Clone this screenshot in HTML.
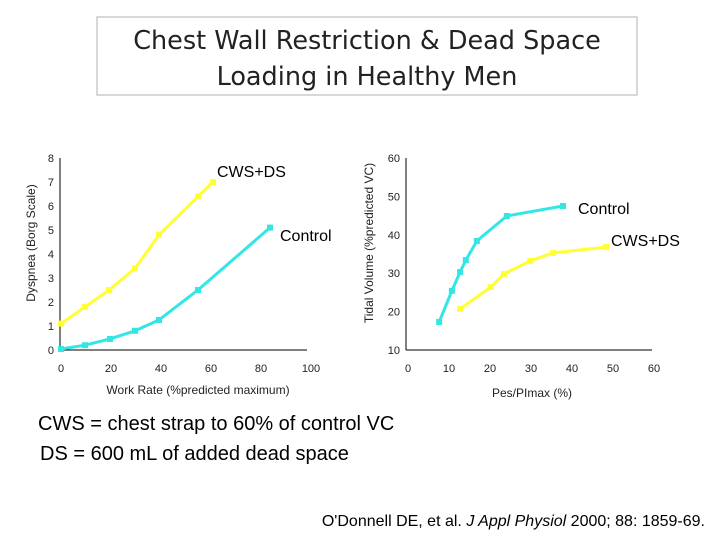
<!DOCTYPE html>
<html><head><meta charset="utf-8"><style>
body{margin:0;background:#fff}
svg text{font-family:"Liberation Sans",sans-serif}
</style></head><body>
<svg width="720" height="540" viewBox="0 0 720 540" xmlns="http://www.w3.org/2000/svg">
<rect x="97" y="17" width="540" height="78" fill="#fff" stroke="#b0b0b0"/>
<text x="367" y="49" text-anchor="middle" font-size="25.5" fill="#222" style="font-family:'DejaVu Sans',sans-serif">Chest Wall Restriction &amp; Dead Space</text>
<text x="367" y="85" text-anchor="middle" font-size="25.5" fill="#222" style="font-family:'DejaVu Sans',sans-serif">Loading in Healthy Men</text>
<g id="left"></g>
<g id="right"></g>
<text x="38" y="430" font-size="20" fill="#000">CWS = chest strap to 60% of control VC</text>
<text x="40" y="460" font-size="20" fill="#000">DS = 600 mL of added dead space</text>
<text x="705" y="526" text-anchor="end" font-size="16" fill="#000">O'Donnell DE, et al.  <tspan font-style="italic">J Appl Physiol</tspan> 2000; 88: 1859-69.</text>
</svg>
<script>
const leftXTicks=[0,20,40,60,80,100];
const leftYTicks=[0,1,2,3,4,5,6,7,8];
const leftCwsX=[0,9.6,19.2,29.6,39.2,54.8,60.8];
const leftCwsY=[1.1,1.8,2.5,3.4,4.8,6.4,7.0];
const leftCtrlX=[0,9.6,19.6,29.6,39.2,54.8,83.6];
const leftCtrlY=[0.04,0.2,0.46,0.8,1.25,2.5,5.1];
const rightXTicks=[0,10,20,30,40,50,60];
const rightYTicks=[10,20,30,40,50,60];
const rightCtrlX=[7.6,10.7,12.7,14.1,16.8,24.1,37.8];
const rightCtrlY=[17.3,25.4,30.3,33.4,38.4,44.9,47.5];
const rightCwsX=[12.7,20.2,23.4,29.8,35.4,48.3];
const rightCwsY=[20.7,26.4,29.8,33.2,35.3,36.8];
const NS="http://www.w3.org/2000/svg";
function mk(p,t,a){const e=document.createElementNS(NS,t);for(const k in a)e.setAttribute(k,a[k]);p.appendChild(e);return e;}
function chart(g,prefix,xs,ys,xTicks,yTicks,xMin,xMax,yMin,yMax,axX,axY0,axY1,axXEnd,pxX0,pxX1){
  const sx=v=>pxX0+(v-xMin)/(xMax-xMin)*(pxX1-pxX0);
  const sy=v=>axY0-(v-yMin)/(yMax-yMin)*(axY0-axY1);
  const ya=mk(g,'line',{x1:axX,y1:axY1,x2:axX,y2:axY0,stroke:'#000'});
  
  const xa=mk(g,'line',{x1:axX,y1:axY0,x2:axXEnd,y2:axY0,stroke:'#000'});
  
  yTicks.forEach(v=>{const t=mk(g,'text',{x:axX-6,y:sy(v)+4,'text-anchor':'end','font-size':11,fill:'#222'});t.textContent=v;
    });
  xTicks.forEach(v=>{const t=mk(g,'text',{x:sx(v),y:axY0+22,'text-anchor':'middle','font-size':11,fill:'#222'});t.textContent=v;
    });
  return {sx,sy};
}
function series(g,s,X,Y,color,name){
  const pl=mk(g,'polyline',{points:X.map((x,i)=>s.sx(x)+','+s.sy(Y[i])).join(' '),fill:'none',stroke:color,'stroke-width':3});
  
  X.forEach((x,i)=>{const r=mk(g,'rect',{x:s.sx(x)-3,y:s.sy(Y[i])-3,width:6,height:6,fill:color});
    });
}
const L=document.getElementById('left');
const ls=chart(L,'left',0,0,leftXTicks,leftYTicks,0,100,0,8,60,350,158,307,61,311);
series(L,ls,leftCwsX,leftCwsY,'#ffff33','left-cws-ds');
series(L,ls,leftCtrlX,leftCtrlY,'#33e6e6','left-control');
let t;
t=mk(L,'text',{x:217,y:177,'font-size':16,fill:'#000'});t.textContent='CWS+DS';

t=mk(L,'text',{x:280,y:241,'font-size':16,fill:'#000'});t.textContent='Control';

t=mk(L,'text',{x:0,y:0,'font-size':12,fill:'#222','text-anchor':'middle',transform:'translate(35,243) rotate(-90)'});t.textContent='Dyspnea (Borg Scale)';

t=mk(L,'text',{x:198,y:394,'font-size':12,fill:'#222','text-anchor':'middle'});t.textContent='Work Rate (%predicted maximum)';

const R=document.getElementById('right');
const rs=chart(R,'right',0,0,rightXTicks,rightYTicks,0,60,10,60,406,350,158,652,408,654);
series(R,rs,rightCtrlX,rightCtrlY,'#33e6e6','right-control');
series(R,rs,rightCwsX,rightCwsY,'#ffff33','right-cws-ds');
t=mk(R,'text',{x:578,y:214,'font-size':16,fill:'#000'});t.textContent='Control';

t=mk(R,'text',{x:611,y:246,'font-size':16,fill:'#000'});t.textContent='CWS+DS';

t=mk(R,'text',{x:0,y:0,'font-size':12,fill:'#222','text-anchor':'middle',transform:'translate(373,243) rotate(-90)'});t.textContent='Tidal Volume (%predicted VC)';

t=mk(R,'text',{x:532,y:397,'font-size':12,fill:'#222','text-anchor':'middle'});t.textContent='Pes/PImax (%)';

</script>
</body></html>
